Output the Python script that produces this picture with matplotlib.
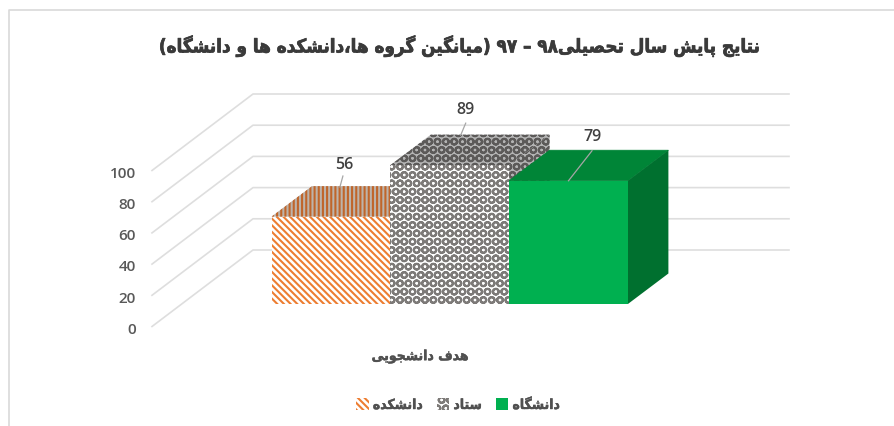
import matplotlib
matplotlib.use("Agg")
import matplotlib.pyplot as plt
import matplotlib.patheffects as pe
from matplotlib.patches import Patch, Polygon

title = "نتایج پایش سال تحصیلی۹۸ – ۹۷ (میانگین گروه ها،دانشکده ها و دانشگاه)"
category = "هدف دانشجویی"
series = ["دانشکده", "ستاد", "دانشگاه"]
values = [56, 89, 79]
ticks = [0, 20, 40, 60, 80, 100]

W, H = 894, 427
PX_PER_UNIT = 1.56   # px per value unit
BAR_PX = 118.8       # px per bar
X0_PX, Y0_PX = 271.5, 305

# isolated, final, initial, medial
FORMS = {
    "ا": (0xFE8D, 0xFE8E), "د": (0xFEA9, 0xFEAA), "ر": (0xFEAD, 0xFEAE), "و": (0xFEED, 0xFEEE),
    "پ": (0xFB56, 0xFB57, 0xFB58, 0xFB59), "ت": (0xFE95, 0xFE96, 0xFE97, 0xFE98),
    "ج": (0xFE9D, 0xFE9E, 0xFE9F, 0xFEA0), "ح": (0xFEA1, 0xFEA2, 0xFEA3, 0xFEA4),
    "س": (0xFEB1, 0xFEB2, 0xFEB3, 0xFEB4), "ش": (0xFEB5, 0xFEB6, 0xFEB7, 0xFEB8),
    "ص": (0xFEB9, 0xFEBA, 0xFEBB, 0xFEBC), "ف": (0xFED1, 0xFED2, 0xFED3, 0xFED4),
    "ک": (0xFB8E, 0xFB8F, 0xFB90, 0xFB91), "گ": (0xFB92, 0xFB93, 0xFB94, 0xFB95),
    "ل": (0xFEDD, 0xFEDE, 0xFEDF, 0xFEE0), "م": (0xFEE1, 0xFEE2, 0xFEE3, 0xFEE4),
    "ن": (0xFEE5, 0xFEE6, 0xFEE7, 0xFEE8), "ه": (0xFEE9, 0xFEEA, 0xFEEB, 0xFEEC),
    "ی": (0xFBFC, 0xFBFD, 0xFBFE, 0xFBFF),
}
MIRROR = {"(": ")", ")": "("}
DIGITS = "۰۱۲۳۴۵۶۷۸۹"


def shape(text):
    # matplotlib does no arabic shaping or bidi, so pick the forms and reverse here
    out = []
    for i, c in enumerate(text):
        if c not in FORMS:
            out.append(MIRROR.get(c, c))
            continue
        prev = text[i - 1] if i else ""
        nxt = text[i + 1] if i + 1 < len(text) else ""
        joins_prev = prev in FORMS and len(FORMS[prev]) == 4
        joins_next = nxt in FORMS and len(FORMS[c]) == 4
        if joins_prev and joins_next:
            form = 3
        elif joins_next:
            form = 2
        elif joins_prev:
            form = 1
        else:
            form = 0
        out.append(chr(FORMS[c][form]))
    out = out[::-1]
    # digit runs stay left to right
    i = 0
    while i < len(out):
        j = i
        while j < len(out) and out[j] in DIGITS:
            j += 1
        if j > i:
            out[i:j] = out[i:j][::-1]
        i = max(j, i + 1)
    return "".join(out)


def bx(px):
    return (px - X0_PX) / BAR_PX


def vy(py):
    return (Y0_PX - py) / PX_PER_UNIT


def heavy(color, width):
    return [pe.withStroke(linewidth=width, foreground=color)]


DEPTH_X = 40.5 / BAR_PX
DEPTH_Y = 30.5 / PX_PER_UNIT

plt.rcParams["hatch.linewidth"] = 1.5

fig = plt.figure(figsize=(W / 100, H / 100), dpi=100)
ax = fig.add_axes([0, 0, 1, 1])
ax.set_xlim(bx(0), bx(W))
ax.set_ylim(vy(H), vy(0))
ax.axis("off")

# outer frame, only top and left show
fig.add_artist(plt.Line2D([8.5 / W, 8.5 / W, 1], [0, 1 - 10.5 / H, 1 - 10.5 / H], color="#d9d9d9", lw=1.2))

# back wall and side wall gridlines
wall_front = vy(327.5)
wall_back = vy(251)
for t in ticks:
    ax.plot([bx(152), bx(253), bx(789)], [wall_front + t, wall_back + t, wall_back + t],
            color="#dedede", lw=1.2, zorder=1)
    ax.text(bx(136), wall_front + t - 1.5, str(t), ha="right", va="center", fontsize=11,
            color="#595959", family="Open Sans", weight="semibold")

front_style = [
    dict(facecolor="white", hatch="\\" * 5, edgecolor="#ed7d31", linewidth=0),
    dict(facecolor="white", hatch="OO", edgecolor="#7d7a78", linewidth=0),
    dict(facecolor="#00b050", linewidth=0),
]
top_style = [
    dict(facecolor="#bdb3aa", hatch="||||", edgecolor="#c0652a", linewidth=0),
    dict(facecolor="#b4b4b4", hatch="OO", edgecolor="#5c5a59", linewidth=0),
    dict(facecolor="#008537", edgecolor="#008537", linewidth=0.6),
]
side_style = [
    dict(facecolor="#bdb3aa", hatch="||||", edgecolor="#c0652a", linewidth=0),
    dict(facecolor="#b4b4b4", hatch="OO", edgecolor="#5c5a59", linewidth=0),
    dict(facecolor="#00702f", linewidth=0),
]

for i, v in enumerate(values):
    z = 2 + i
    ax.add_patch(Polygon([(i, v), (i + 1, v), (i + 1 + DEPTH_X, v + DEPTH_Y), (i + DEPTH_X, v + DEPTH_Y)],
                         zorder=z, **top_style[i]))
    ax.add_patch(Polygon([(i + 1, 0), (i + 1 + DEPTH_X, DEPTH_Y), (i + 1 + DEPTH_X, v + DEPTH_Y), (i + 1, v)],
                         zorder=z, **side_style[i]))
    ax.bar(i + 0.5, v, width=1, zorder=z + 0.5, **front_style[i])

# value labels with leader lines, offsets in px from the bar's front top centre
leader_from = [(9, 29.6), (11, 30), (0, 0)]
leader_to = [(12, 40.6), (16, 42), (23.5, 30)]
label_at = [(13, 53), (16, 56), (24.5, 45)]
for i, v in enumerate(values):
    ax.plot([i + 0.5 + leader_from[i][0] / BAR_PX, i + 0.5 + leader_to[i][0] / BAR_PX],
            [v + leader_from[i][1] / PX_PER_UNIT, v + leader_to[i][1] / PX_PER_UNIT],
            color="#a6a6a6", lw=0.9, zorder=8)
    ax.annotate(str(v), xy=(i + 0.5, v), xytext=label_at[i], textcoords="offset pixels",
                ha="center", va="center", fontsize=11.5, color="#404040",
                family="Open Sans", weight="semibold", zorder=9)

ax.text(bx(760), vy(47), shape(title), ha="right", va="center", fontsize=13.5, weight="bold",
        color="#3a3a3a", family="DejaVu Sans", stretch="condensed", path_effects=heavy("#3a3a3a", 0.5))
ax.text(bx(420), vy(357.5), shape(category), ha="center", va="center", fontsize=10, weight="bold",
        color="#505050", family="DejaVu Sans", stretch="condensed", path_effects=heavy("#505050", 0.3))

handles = [
    Patch(facecolor="white", hatch="\\" * 5, edgecolor="#ed7d31", linewidth=0),
    Patch(facecolor="white", hatch="OO", edgecolor="#7d7a78", linewidth=0),
    Patch(facecolor="#00b050", linewidth=0),
]
leg = ax.legend(handles, [shape(s) for s in series], ncol=3, frameon=False, loc="center",
                bbox_to_anchor=(458 / W, 1 - 406 / H), bbox_transform=fig.transFigure,
                handlelength=0.9, handleheight=0.9, handletextpad=0.3, columnspacing=1.0,
                labelcolor="#505050", prop=dict(family="DejaVu Sans", weight="bold", size=10, stretch="condensed"))
for t in leg.get_texts():
    t.set_path_effects(heavy("#505050", 0.3))

fig.savefig("out.png", dpi=100)
